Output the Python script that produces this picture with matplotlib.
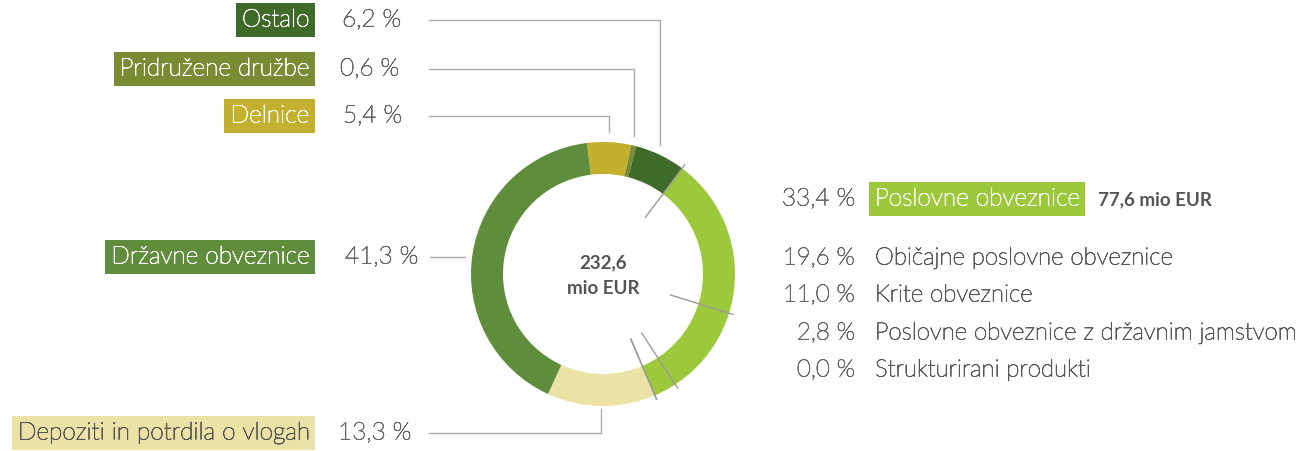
import numpy as np
import matplotlib
matplotlib.use('Agg')
import matplotlib.pyplot as plt
import matplotlib.patheffects as pe

# ---------------- data ----------------
categories = ['Delnice', 'Pridružene družbe', 'Ostalo', 'Poslovne obveznice',
              'Depoziti in potrdila o vlogah', 'Državne obveznice']
shares = [5.4, 0.6, 6.2, 33.4, 13.3, 41.3]
pct_labels = ['5,4 %', '0,6 %', '6,2 %', '33,4 %', '13,3 %', '41,3 %']
colors = ['#c3b02f', '#7a8c33', '#3e6b27', '#9bc93b', '#ebe3a6', '#5f8d3c']

sub_categories = ['Običajne poslovne obveznice', 'Krite obveznice',
                  'Poslovne obveznice z državnim jamstvom', 'Strukturirani produkti']
sub_shares = [19.6, 11.0, 2.8, 0.0]
sub_pct_labels = ['19,6 %', '11,0 %', '2,8 %', '0,0 %']

total_value = '232,6'
total_unit = 'mio EUR'
corporate_amount = '77,6 mio EUR'

# ---------------- layout ----------------
W, H = 1306, 452
FONT = 'Lato'
FS = 17.6
FS_SUB = 17.3
WT = 'light'
fig = plt.figure(figsize=(W / 100, H / 100), dpi=100)
ax = fig.add_axes([0, 0, 1, 1])

cx, cy = 603, H - 275
R, RW = 132, 32
start = 97.0

ax.pie(shares, colors=colors, startangle=start, counterclock=False,
       center=(cx, cy), radius=R, frame=True,
       wedgeprops=dict(width=RW, linewidth=0))
ax.set_xlim(0, W)
ax.set_ylim(0, H)
ax.set_aspect('equal')
ax.axis('off')

total = sum(shares)


def ang(c):
    return np.deg2rad(start - 360.0 * c / total)


def txt(x, y, s, color, **kw):
    t = ax.text(x, y, s, va='center', fontsize=kw.pop('fontsize', FS),
                fontweight=kw.pop('fontweight', WT), color=color,
                family=FONT, **kw)
    t.set_path_effects([pe.withStroke(linewidth=0.55, foreground=color)])
    return t


cum = np.concatenate([[0], np.cumsum(shares)])
mids = [(cum[i] + cum[i + 1]) / 2 for i in range(len(shares))]

# sub-division lines in Poslovne obveznice
ip = categories.index('Poslovne obveznice')
bounds = [cum[ip]] + list(cum[ip] + np.cumsum(sub_shares))
for b in bounds:
    t = ang(b)
    ax.plot([cx + 70 * np.cos(t), cx + 137 * np.cos(t)],
            [cy + 70 * np.sin(t), cy + 137 * np.sin(t)],
            color='#9a9a9a', lw=1, solid_capstyle='butt', zorder=5)

# center text
ax.text(cx, H - 263, total_value, ha='center', va='center', fontsize=13.5,
        fontweight='bold', color='#555555', family=FONT)
ax.text(cx, H - 289, total_unit, ha='center', va='center', fontsize=13.5,
        fontweight='bold', color='#555555', family=FONT)

# left labels: name -> (y_px, pct_x, kind)
left = {
    'Ostalo': (21, 342, 'top'),
    'Pridružene družbe': (70, 340, 'top'),
    'Delnice': (117, 343, 'top'),
    'Državne obveznice': (258, 345, 'side'),
    'Depoziti in potrdila o vlogah': (434, 338, 'bottom'),
}
LINE_C = '#aaaaaa'
PCT_C = '#666666'
for name, (ypx, px, kind) in left.items():
    i = categories.index(name)
    y = H - ypx
    tc = '#555555' if name.startswith('Depoziti') else 'white'
    txt(309, y, name, tc, ha='right',
        bbox=dict(boxstyle='square,pad=0.25', fc=colors[i], ec='none'))
    txt(px, y, pct_labels[i], PCT_C, ha='left')
    t = ang(mids[i])
    mx, my = cx + R * np.cos(t), cy + R * np.sin(t)
    if kind == 'top':
        ax.plot([429, mx, mx], [y, y, my + 10], color=LINE_C, lw=1)
    elif kind == 'bottom':
        ax.plot([429, mx, mx], [y, y, my - 3], color=LINE_C, lw=1)
    else:
        ax.plot([430, mx - 8], [y, y], color=LINE_C, lw=1)

# right labels
yr = H - 200
txt(855, yr, pct_labels[ip], PCT_C, ha='right')
txt(875, yr, categories[ip], 'white', ha='left',
    bbox=dict(boxstyle='square,pad=0.25', fc=colors[ip], ec='none'))
ax.text(1098, yr, corporate_amount, ha='left', va='center', fontsize=13.5,
        fontweight='bold', color='#555555', family=FONT)

sub_y = [259, 296, 334, 371]
for name, lab, ypx in zip(sub_categories, sub_pct_labels, sub_y):
    txt(855, H - ypx, lab, PCT_C, ha='right', fontsize=FS_SUB)
    txt(875, H - ypx, name, '#595959', ha='left', fontsize=FS_SUB)

fig.savefig('out.png', dpi=100, facecolor='white')
